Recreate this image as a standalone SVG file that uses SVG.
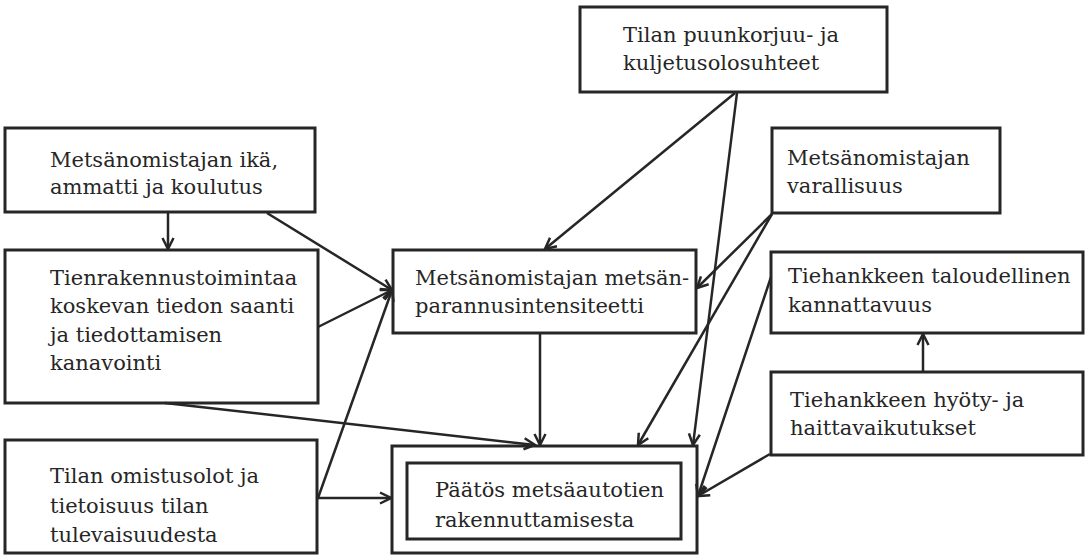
<svg xmlns="http://www.w3.org/2000/svg" width="1090" height="555" viewBox="0 0 1090 555">
<style>
.box{fill:none;stroke:#262626;stroke-width:3}
.t{font-family:"DejaVu Serif","Liberation Serif",serif;font-size:21px;fill:#262626}
.c{fill:none;stroke:#262626;stroke-width:2.5}
</style>
<defs>
<marker id="ah" markerUnits="userSpaceOnUse" markerWidth="16" markerHeight="16" viewBox="0 0 16 16" refX="14" refY="8" orient="auto">
<path d="M3,2.5 L14,8 L3,13.5" fill="none" stroke="#262626" stroke-width="2.5"/>
</marker>
</defs>
<rect width="1090" height="555" fill="#fff"/>
<g id="connectors">
<line class="c" x1="168" y1="212" x2="168" y2="249" marker-end="url(#ah)"/>
<line class="c" x1="267" y1="213" x2="392" y2="290" marker-end="url(#ah)"/>
<line class="c" x1="318" y1="327" x2="392" y2="290" marker-end="url(#ah)"/>
<line class="c" x1="318" y1="498" x2="392" y2="290" marker-end="url(#ah)"/>
<line class="c" x1="318" y1="498" x2="391" y2="498" marker-end="url(#ah)"/>
<line class="c" x1="165" y1="403" x2="535" y2="445" marker-end="url(#ah)"/>
<line class="c" x1="540" y1="333" x2="540" y2="445" marker-end="url(#ah)"/>
<line class="c" x1="735" y1="93" x2="545" y2="249" marker-end="url(#ah)"/>
<line class="c" x1="737" y1="93" x2="693" y2="445" marker-end="url(#ah)"/>
<line class="c" x1="772" y1="214" x2="697" y2="288" marker-end="url(#ah)"/>
<line class="c" x1="772" y1="214" x2="638" y2="445" marker-end="url(#ah)"/>
<line class="c" x1="771" y1="277" x2="698" y2="496" marker-end="url(#ah)"/>
<line class="c" x1="770" y1="454" x2="698" y2="496" marker-end="url(#ah)"/>
<line class="c" x1="923" y1="372" x2="923" y2="334" marker-end="url(#ah)"/>
</g>
<g id="n-ika">
<rect class="box" x="5" y="128" width="310" height="84"/>
<text class="t" x="50" y="167">Metsänomistajan ikä,</text>
<text class="t" x="50" y="194">ammatti ja koulutus</text>
</g>
<g id="n-tieto">
<rect class="box" x="5" y="250" width="313" height="153"/>
<text class="t" x="50" y="285">Tienrakennustoimintaa</text>
<text class="t" x="50" y="313">koskevan tiedon saanti</text>
<text class="t" x="50" y="342">ja tiedottamisen</text>
<text class="t" x="50" y="370">kanavointi</text>
</g>
<g id="n-omistus">
<rect class="box" x="5" y="440" width="312" height="113"/>
<text class="t" x="50" y="483">Tilan omistusolot ja</text>
<text class="t" x="50" y="513">tietoisuus tilan</text>
<text class="t" x="50" y="542">tulevaisuudesta</text>
</g>
<g id="n-intensiteetti">
<rect class="box" x="393" y="250" width="303" height="83"/>
<text class="t" x="415" y="285">Metsänomistajan metsän-</text>
<text class="t" x="415" y="313">parannusintensiteetti</text>
</g>
<g id="n-puunkorjuu">
<rect class="box" x="580" y="7" width="307" height="85"/>
<text class="t" x="623" y="42">Tilan puunkorjuu- ja</text>
<text class="t" x="623" y="70">kuljetusolosuhteet</text>
</g>
<g id="n-varallisuus">
<rect class="box" x="772" y="128" width="228" height="85"/>
<text class="t" x="787" y="165">Metsänomistajan</text>
<text class="t" x="787" y="193">varallisuus</text>
</g>
<g id="n-kannattavuus">
<rect class="box" x="771" y="252" width="312" height="81"/>
<text class="t" x="788" y="283">Tiehankkeen taloudellinen</text>
<text class="t" x="788" y="312">kannattavuus</text>
</g>
<g id="n-hyoty">
<rect class="box" x="771" y="372" width="312" height="83"/>
<text class="t" x="790" y="407">Tiehankkeen hyöty- ja</text>
<text class="t" x="790" y="435">haittavaikutukset</text>
</g>
<g id="n-paatos">
<rect class="box" x="392" y="446" width="305" height="107"/>
<rect class="box" x="407" y="463" width="274" height="76"/>
<text class="t" x="435" y="497">Päätös metsäautotien</text>
<text class="t" x="435" y="527">rakennuttamisesta</text>
</g>
</svg>
